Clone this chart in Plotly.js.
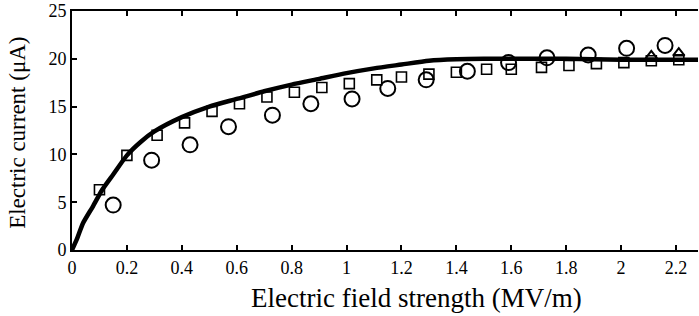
<!DOCTYPE html>
<html>
<head>
<meta charset="utf-8">
<script src="https://cdn.plot.ly/plotly-3.0.1.min.js"></script>
<style>
html,body{margin:0;padding:0;background:#fff;}
#chart{width:699px;height:316px;}
#chart .xtick text, #chart .ytick text { font-family: "Liberation Serif", serif !important; font-size: 18px !important; }
</style>
</head>
<body>
<div id="chart"></div>
<script>
// Model curve (solid line)
const modelX = [0, 0.02, 0.04, 0.077, 0.11, 0.15, 0.2, 0.25, 0.3, 0.4, 0.5, 0.6, 0.7, 0.8, 0.9, 1.0, 1.1, 1.2, 1.3, 1.4, 1.5, 1.6, 1.8, 2.0, 2.2, 2.28];
const modelY = [0, 1.3, 2.8, 4.6, 6.3, 7.9, 9.9, 11.3, 12.4, 13.9, 15.0, 15.8, 16.6, 17.3, 17.9, 18.5, 19.0, 19.4, 19.8, 19.95, 20.0, 20.0, 20.0, 19.9, 19.9, 19.9];
// Squares
const sqX = [0.1, 0.2, 0.31, 0.41, 0.51, 0.61, 0.71, 0.81, 0.91, 1.01, 1.11, 1.2, 1.3, 1.4, 1.51, 1.6, 1.71, 1.81, 1.91, 2.01, 2.11, 2.21];
const sqY = [6.3, 9.9, 12.0, 13.3, 14.5, 15.3, 16.0, 16.5, 17.0, 17.4, 17.8, 18.1, 18.4, 18.6, 18.9, 18.9, 19.1, 19.3, 19.5, 19.6, 19.8, 19.9];
// Circles
const ciX = [0.15, 0.29, 0.43, 0.57, 0.73, 0.87, 1.02, 1.15, 1.29, 1.44, 1.59, 1.73, 1.88, 2.02, 2.16];
const ciY = [4.7, 9.4, 11.0, 12.9, 14.1, 15.3, 15.8, 16.9, 17.8, 18.7, 19.6, 20.1, 20.4, 21.1, 21.4];
// Triangles
const trX = [2.11, 2.21];
const trY = [20.3, 20.6];

const serif = "Liberation Serif";

const traces = [
  {x: modelX, y: modelY, mode: 'lines', line: {color: '#000', width: 4.5, shape: 'spline', smoothing: 0.6}, hoverinfo: 'skip'},
  {x: sqX, y: sqY, mode: 'markers', marker: {symbol: 'square-open', size: 10, color: '#000', line: {width: 1.6, color: '#000'}}},
  {x: ciX, y: ciY, mode: 'markers', marker: {symbol: 'circle-open', size: 15, color: '#000', line: {width: 2, color: '#000'}}},
  {x: trX, y: trY, mode: 'markers', marker: {symbol: 'triangle-up-open', size: 10, color: '#000', line: {width: 2, color: '#000'}}}
];

const layout = {
  width: 699, height: 316,
  margin: {l: 72, r: 1, t: 11, b: 66, pad: 0},
  paper_bgcolor: '#fff', plot_bgcolor: '#fff',
  showlegend: false,
  font: {family: serif, color: '#000', size: 18},
  xaxis: {
    range: [0, 2.28], dtick: 0.2, tick0: 0,
    ticks: 'inside', ticklen: 5, tickwidth: 1.5, tickcolor: '#000',
    showline: true, linecolor: '#000', linewidth: 2, mirror: 'allticks',
    showgrid: false, zeroline: false,
    tickfont: {family: serif, size: 18, color: '#000'}
  },
  yaxis: {
    range: [0, 25], dtick: 5, tick0: 0,
    ticks: 'inside', ticklen: 5, tickwidth: 1.5, tickcolor: '#000',
    showline: true, linecolor: '#000', linewidth: 2, mirror: false,
    showgrid: false, zeroline: false,
    tickfont: {family: serif, size: 18, color: '#000'}
  },
  annotations: [
    {text: 'Electric field strength (MV/m)', xref: 'paper', yref: 'paper', x: 0.551, y: -0.2, xanchor: 'center', yanchor: 'middle', showarrow: false, font: {family: serif, size: 27, color: '#000'}},
    {text: 'Electric current (μA)', xref: 'paper', yref: 'paper', x: -0.0863, y: 0.49, xanchor: 'center', yanchor: 'middle', textangle: -90, showarrow: false, font: {family: serif, size: 23, color: '#000'}}
  ]
};

Plotly.newPlot('chart', traces, layout, {displayModeBar: false});
</script>
</body>
</html>
